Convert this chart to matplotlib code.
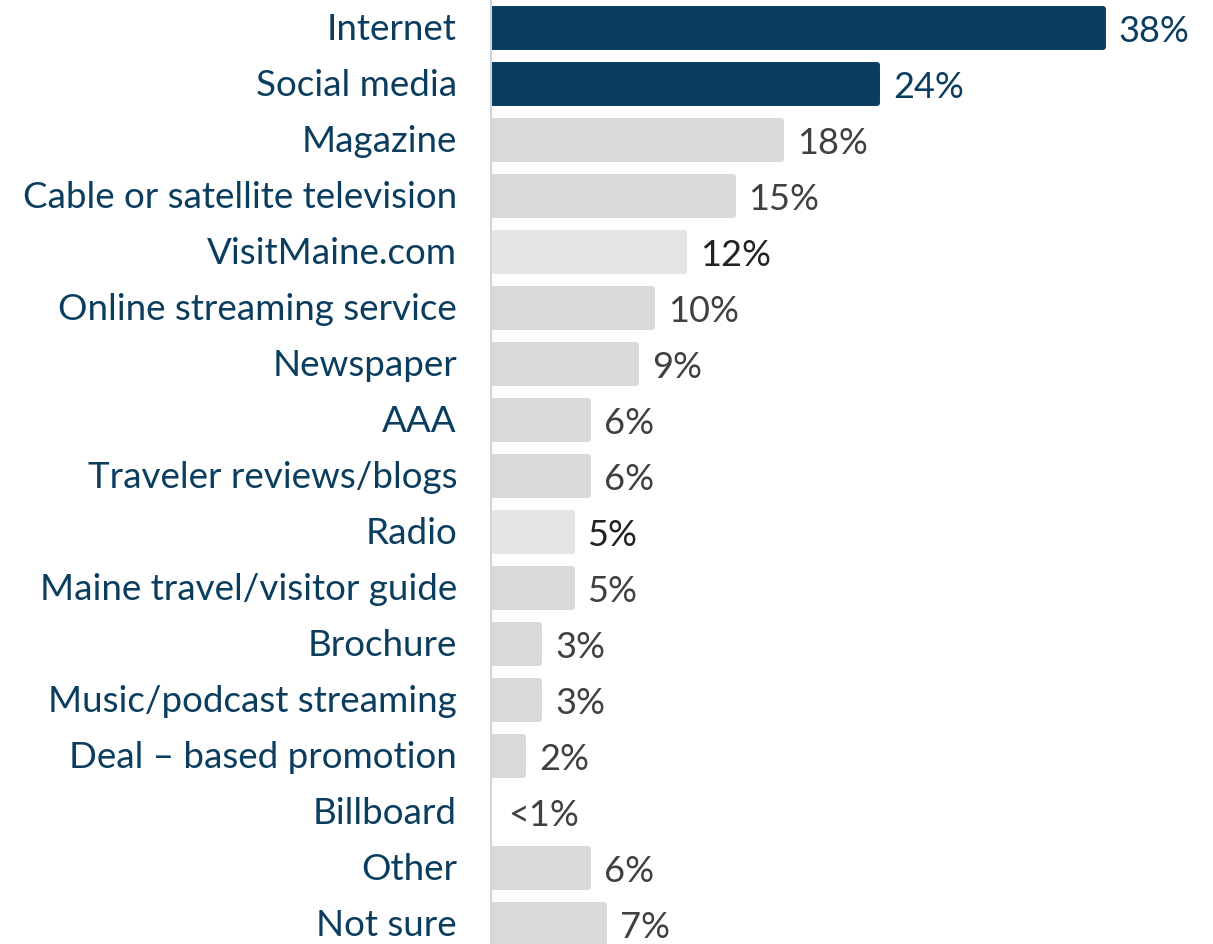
import matplotlib.pyplot as plt

categories = ['Internet', 'Social media', 'Magazine', 'Cable or satellite television',
              'VisitMaine.com', 'Online streaming service', 'Newspaper', 'AAA',
              'Traveler reviews/blogs', 'Radio', 'Maine travel/visitor guide', 'Brochure',
              'Music/podcast streaming', 'Deal \u2013 based promotion', 'Billboard', 'Other',
              'Not sure']
values = [38, 24, 18, 15, 12, 10, 9, 6, 6, 5, 5, 3, 3, 2, 0, 6, 7]
value_labels = ['38%', '24%', '18%', '15%', '12%', '10%', '9%', '6%', '6%', '5%', '5%',
                '3%', '3%', '2%', '<1%', '6%', '7%']
# bar colour group: 0 = highlight, 1 = grey, 2 = light grey
groups = [0, 0, 1, 1, 2, 1, 1, 1, 1, 2, 1, 1, 1, 1, 1, 1, 1]

navy = '#0b3d5f'
bar_colors = {0: navy, 1: '#d9d9d9', 2: '#e5e5e5'}
text_colors = {0: navy, 1: '#404040', 2: '#222222'}

plt.rcParams['font.family'] = ['Lato', 'DejaVu Sans']

W, H = 1213, 945
fig = plt.figure(figsize=(W / 100, H / 100), dpi=100)
x0 = 491
scale = 16.1  # px per percent
ax = fig.add_axes([x0 / W, 0, (W - x0) / W, 1])
ax.set_xlim(0, (W - x0) / scale)
ax.set_ylim(16 + (945 - 29 - 16 * 56) / 56, -0.5 - 1 / 56)

for i, (v, g) in enumerate(zip(values, groups)):
    c = bar_colors[g]
    if v > 0:
        ax.barh(i, v, height=38 / 56, color=c, edgecolor=c, linewidth=4.3,
                joinstyle='round', zorder=1)
    ax.annotate(categories[i], xy=(0, i), xytext=(-34, -11), textcoords='offset pixels',
                ha='right', va='baseline', fontsize=26.5, color=navy, annotation_clip=False)
    ax.annotate(value_labels[i], xy=(v, i), xytext=(16 if v > 0 else 17, -13),
                textcoords='offset pixels', ha='left', va='baseline', fontsize=26,
                color=text_colors[g])

for s in ['top', 'right', 'bottom']:
    ax.spines[s].set_visible(False)
ax.spines['left'].set_color('#d4d4d4')
ax.spines['left'].set_linewidth(1.5)
ax.spines['left'].set_zorder(3)
ax.set_xticks([])
ax.set_yticks([])

fig.savefig('out.png', dpi=100)
